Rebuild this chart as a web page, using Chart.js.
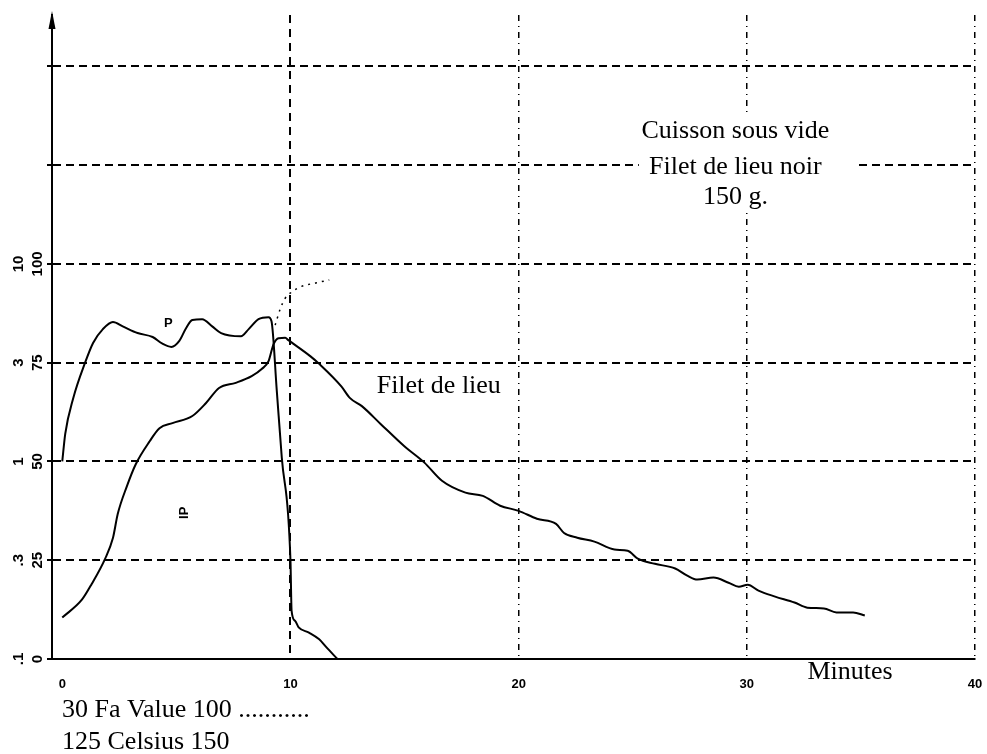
<!DOCTYPE html>
<html>
<head>
<meta charset="utf-8">
<script src="https://cdn.jsdelivr.net/npm/chart.js@4.4.1/dist/chart.umd.min.js"></script>
<style>
  html, body { margin: 0; padding: 0; background: #fff; }
  #wrap { width: 987px; height: 754px; }
</style>
</head>
<body>
<div id="wrap"><canvas id="chart" width="987" height="754"></canvas></div>
<script>
// axes
const minuteTicks = [0, 10, 20, 30, 40];
const celsiusTicks = [0, 25, 50, 75, 100, 125, 150];
const celsiusLabels = ['0', '25', '50', '75', '100', '', ''];
const faTicks = [0.1, 0.3162, 1, 3.162, 10];
const faLabels = ['.1', '.3', '1', '3', '10'];

// courbe P (surface)
const pMinutes = [0, 0.13, 0.48, 1.0, 1.35, 1.78, 2.22, 2.65, 3.3, 3.96, 4.39, 4.78, 5.13, 5.43, 5.7, 6.13,
  6.57, 6.96, 7.83, 8.17, 8.6, 9.04, 9.17, 9.4, 9.62, 10.0, 10.05, 10.2, 10.36, 10.81, 11.26, 11.57, 12.06];
const pCelsius = [50, 57, 66, 75, 80, 83.5, 85.3, 84.2, 82.5, 81.5, 79.8, 79, 80.5, 83.8, 85.8, 86,
  84.2, 82.5, 81.7, 83.5, 86, 86.5, 85.5, 68, 51, 25, 12.2, 9.7, 8, 6.7, 5, 3, 0];

// courbe IP (coeur)
const ipMinutes = [0, 0.86, 1.29, 1.87, 2.22, 2.43, 2.83, 3.22, 3.83, 4.26, 4.83, 5.7, 6.3, 6.87, 7.6, 8.3,
  8.74, 9.04, 9.26, 9.48, 9.77, 9.91, 10.88, 11.26, 12.23, 12.6, 13.13, 13.95, 14.98, 15.87, 16.64, 17.67,
  18.43, 19.19, 20, 20.8, 21.64, 21.99, 22.57, 23.32, 24.2, 24.78, 25.22, 25.97, 26.86, 27.39, 27.83, 28.54,
  29.2, 29.65, 30.04, 30.51, 31.24, 32.09, 32.65, 33.38, 33.93, 34.66, 35.17];
const ipCelsius = [10.5, 15, 19, 25.3, 30.6, 36.7, 43.7, 49.3, 55.1, 58.4, 59.7, 61.5, 64.8, 68.6, 69.9, 71.6,
  73.4, 75.4, 79.7, 81.2, 81.3, 80.7, 76.6, 74.7, 69, 66.1, 64, 59.5, 53.9, 49.7, 45.1, 42.1,
  41.3, 38.8, 37.5, 35.5, 34.2, 31.9, 30.7, 29.7, 27.7, 27.4, 25.4, 24.1, 22.9, 21.1, 20.1, 20.6,
  19.3, 18.3, 18.8, 17.3, 15.8, 14.3, 13.0, 12.8, 11.8, 11.8, 11.0];

// valeur Fa (pointillé)
const faMinutes = [9.33, 9.55, 9.77, 10.05, 10.49, 11.1, 11.7];
const faValues = [4.9, 5.9, 6.7, 7.2, 7.7, 8.0, 8.3];

const yMax = 163;
const sansFont = '"Liberation Sans", Arial, sans-serif';
const serifFont = '"Liberation Serif", "Times New Roman", serif';

const toPoints = (xs, ys) => xs.map((x, i) => ({x: x, y: ys[i]}));

const annotations = {
  id: 'annotations',
  afterDraw(chart) {
    const {ctx, chartArea, scales} = chart;
    const xs = scales.x, ys = scales.y;
    ctx.save();

    // fleche de l'axe
    ctx.fillStyle = '#000';
    ctx.beginPath();
    ctx.moveTo(chartArea.left, chartArea.top - 4);
    ctx.lineTo(chartArea.left - 3.5, chartArea.top + 14);
    ctx.lineTo(chartArea.left + 3.5, chartArea.top + 14);
    ctx.closePath();
    ctx.fill();

    // titre sur fond blanc
    const cx = xs.getPixelForValue(30);
    ctx.fillStyle = '#fff';
    ctx.fillRect(cx - 108, ys.getPixelForValue(138), 216, ys.getPixelForValue(113) - ys.getPixelForValue(138));
    ctx.fillStyle = '#000';
    ctx.font = '26px ' + serifFont;
    ctx.textAlign = 'center';
    ctx.textBaseline = 'middle';
    const tx = xs.getPixelForValue(29.5);
    ctx.fillText('Cuisson sous vide', tx, ys.getPixelForValue(133.5));
    ctx.fillText('Filet de lieu noir', tx, ys.getPixelForValue(124.6));
    ctx.fillText('150 g.', tx, ys.getPixelForValue(116.8));
    ctx.fillText('Filet de lieu', xs.getPixelForValue(16.5), ys.getPixelForValue(69));

    // noms des courbes
    ctx.font = 'bold 13px ' + sansFont;
    ctx.fillText('P', xs.getPixelForValue(4.65), ys.getPixelForValue(85));
    ctx.save();
    ctx.translate(xs.getPixelForValue(5.35), ys.getPixelForValue(37));
    ctx.rotate(-Math.PI / 2);
    ctx.fillText('IP', 0, 0);
    ctx.restore();

    // legendes du bas
    ctx.font = '26px ' + serifFont;
    ctx.fillText('Minutes', 850, 672);
    ctx.textAlign = 'left';
    ctx.fillText('30 Fa Value 100 ...........', 62, 710);
    ctx.fillText('125 Celsius 150', 62, 742);
    ctx.restore();
  }
};

const tickFont = {family: sansFont, weight: 'bold', size: 15};
const clear = 'rgba(0,0,0,0)';

new Chart(document.getElementById('chart'), {
  type: 'line',
  data: {
    datasets: [
      {
        label: 'P',
        data: toPoints(pMinutes, pCelsius),
        yAxisID: 'y',
        borderColor: '#000',
        borderWidth: 2,
        pointRadius: 0,
        cubicInterpolationMode: 'monotone',
        fill: false
      },
      {
        label: 'IP',
        data: toPoints(ipMinutes, ipCelsius),
        yAxisID: 'y',
        borderColor: '#000',
        borderWidth: 2,
        pointRadius: 0,
        cubicInterpolationMode: 'monotone',
        fill: false
      },
      {
        label: 'Fa Value',
        data: toPoints(faMinutes, faValues),
        yAxisID: 'y2',
        borderColor: '#000',
        borderWidth: 1.5,
        borderDash: [2, 5],
        pointRadius: 0,
        cubicInterpolationMode: 'monotone',
        fill: false
      }
    ]
  },
  options: {
    responsive: false,
    animation: false,
    layout: {padding: {top: 15, right: 12, left: 0, bottom: 0}},
    plugins: {
      legend: {display: false},
      tooltip: {enabled: false}
    },
    scales: {
      x: {
        type: 'linear',
        position: 'bottom',
        min: -0.45,
        max: 40,
        bounds: 'data',
        afterBuildTicks: s => { s.ticks = minuteTicks.map(v => ({value: v})); },
        afterFit: s => { s.height = 95; },
        ticks: {
          autoSkip: false,
          maxRotation: 0,
          padding: 2,
          color: '#000',
          font: {family: sansFont, weight: 'bold', size: 13},
          callback: (v, i) => String(minuteTicks[i])
        },
        grid: {
          drawTicks: true,
          tickLength: 16,
          tickColor: clear,
          color: c => (c.tick && c.tick.value === 0) ? clear : '#000',
          lineWidth: c => (c.tick && c.tick.value === 10) ? 2 : 1.5
        },
        border: {
          color: '#000',
          width: 2,
          dash: c => (c.tick && c.tick.value === 10) ? [8, 6] : [6, 5, 1, 5]
        }
      },
      y: {
        type: 'linear',
        position: 'left',
        weight: 0,
        min: 0,
        max: yMax,
        bounds: 'data',
        afterBuildTicks: s => { s.ticks = celsiusTicks.map(v => ({value: v})); },
        afterFit: s => { s.width = 22; },
        ticks: {
          autoSkip: false,
          minRotation: 90,
          maxRotation: 90,
          crossAlign: 'center',
          padding: -3,
          color: '#000',
          font: tickFont,
          callback: (v, i) => celsiusLabels[i]
        },
        grid: {
          color: c => (c.tick && c.tick.value === 0) ? clear : '#000',
          lineWidth: 2,
          drawTicks: true,
          tickLength: 5,
          tickColor: '#000',
          tickWidth: 2
        },
        border: {
          color: '#000',
          width: 2,
          dash: c => c.tick ? [8, 5] : []
        }
      },
      y2: {
        type: 'logarithmic',
        position: 'left',
        weight: 1,
        min: 0.1,
        max: 0.1 * Math.pow(10, yMax / 50),
        bounds: 'data',
        afterBuildTicks: s => { s.ticks = faTicks.map(v => ({value: v})); },
        afterFit: s => { s.width = 30; },
        ticks: {
          autoSkip: false,
          minRotation: 90,
          maxRotation: 90,
          crossAlign: 'center',
          padding: 3,
          color: '#000',
          font: tickFont,
          callback: (v, i) => faLabels[i]
        },
        grid: {display: false, drawTicks: false},
        border: {display: false}
      }
    }
  },
  plugins: [annotations]
});
</script>
</body>
</html>
